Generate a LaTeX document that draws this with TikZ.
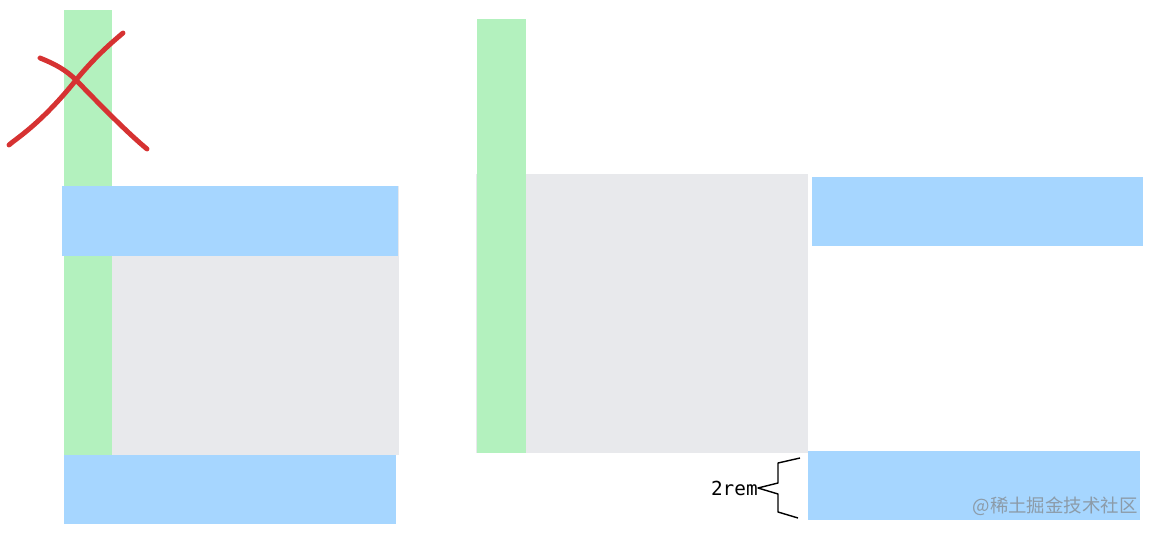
\documentclass[tikz,border=0pt]{standalone}
\usepackage{fontspec}
\newfontfamily\cjk{Noto Sans CJK SC}
\newfontfamily\monofont{DejaVu Sans Mono}
\usepackage{xcolor}
\definecolor{barGreen}{HTML}{B3F1BE}
\definecolor{boxBlue}{HTML}{A6D6FF}
\definecolor{boxGray}{HTML}{E8E9EC}
\definecolor{crossRed}{HTML}{D63232}
\definecolor{markGray}{HTML}{8C9BA8}

\begin{document}
\begin{tikzpicture}[x=0.02cm, y=-0.02cm,
			greenbar/.style={fill=barGreen},
			bluebox/.style={fill=boxBlue},
			graybox/.style={fill=boxGray},
			cross/.style={draw=crossRed, line width=2.8pt, line cap=round}]
			\useasboundingbox (0,0) rectangle (1153,534);

			% left: the wrong one
			\fill[graybox] (112,186) rectangle (399,455);
			\fill[greenbar] (64,10) rectangle (112,455);
			\fill[bluebox] (62,186) rectangle (398,256);
			\fill[bluebox] (64,455) rectangle (396,524);
			\draw[cross] (9,145) .. controls (14,140) and (40,125) .. (76,80) .. controls (95,57) and (110,44) .. (123,33);
			\draw[cross] (40,58) .. controls (55,64) and (66,70) .. (76,80) .. controls (105,110) and (130,135) .. (147,149);

			% right
			\fill[graybox] (476,174) rectangle (808,453);
			\fill[greenbar] (477,19) rectangle (526,453);
			\fill[bluebox] (812,177) rectangle (1143,246);
			\fill[bluebox] (808,451) rectangle (1140,520);

			\node (gap) [anchor=east, inner sep=0pt] at (758,488) {\monofont\fontsize{11pt}{13pt}\selectfont 2rem};
			\coordinate (gapTop) at (800,458);
			\coordinate (gapBot) at (798,518);
			\draw[thick, line join=round] (gapTop) -- (778,463) -- (778,483) -- (gap.east) -- (778,494) -- (778,512) -- (gapBot);

			\node (mark) [anchor=east, inner sep=0pt, text=markGray] at (1138,506) {\cjk\fontsize{10.5pt}{12pt}\selectfont @稀土掘金技术社区};
		\end{tikzpicture}
\end{document}
